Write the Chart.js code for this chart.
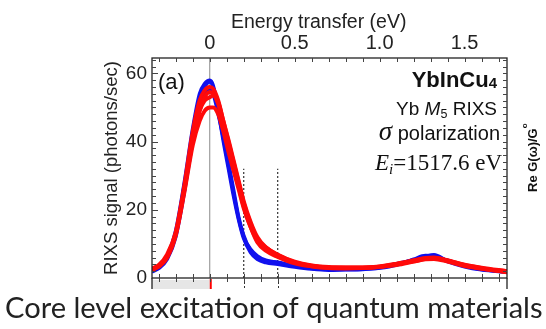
<!DOCTYPE html>
<html>
<head>
<meta charset="utf-8">
<script src="https://cdn.jsdelivr.net/npm/chart.js@4"></script>
<style>
  html, body { margin: 0; padding: 0; background: #fff; }
  canvas { display: block; }
</style>
</head>
<body>
<canvas id="rixs" width="546" height="329"></canvas>
<script>
// energy transfer (eV), shared by all spectra
const energy = [-0.34, -0.3, -0.25, -0.2, -0.15, -0.1, -0.06, -0.03, 0, 0.02, 0.05, 0.08, 0.11, 0.14, 0.17, 0.2,
  0.24, 0.28, 0.33, 0.4, 0.5, 0.6, 0.7, 0.8, 0.9, 1.0, 1.1, 1.2, 1.27, 1.32, 1.4, 1.5, 1.6, 1.75];

// RIXS signal (photons/sec), blue spectra
const blue1 = [2, 3, 6, 13, 27, 42, 52, 56, 57.5, 56, 50, 42, 34, 26, 18, 12.5, 8, 6, 5, 4.5, 3.5, 2.8, 2.5, 2.5, 2.6, 3, 4, 5.3, 6.3, 6.8, 5, 3.5, 2.5, 1.8];
const blue2 = [2.2, 3.2, 6.5, 14, 28, 44, 54, 57, 58, 56.5, 49, 40, 32, 24, 17, 11.5, 7.5, 5.5, 4.5, 4, 3.2, 2.6, 2.3, 2.4, 2.5, 2.9, 3.8, 5.5, 6.6, 6.5, 4.8, 3.3, 2.4, 1.7];
const blue3 = [1.8, 2.8, 5.5, 12, 25, 40, 50, 54, 55.5, 54, 48, 41, 33, 25, 17.5, 12, 8.5, 6.5, 5.2, 4.6, 3.6, 3, 2.6, 2.6, 2.7, 3.1, 4.2, 5.2, 6, 6.2, 5.2, 3.6, 2.6, 1.9];

// red spectra
const red1 = [2.5, 3.5, 6.5, 13, 26, 41, 49, 53, 54.5, 54, 51, 45, 39, 33, 27, 21, 15, 11, 8.5, 6.5, 4.5, 3.5, 3, 3, 3, 3.3, 4, 5, 5.7, 5.8, 5, 3.7, 2.8, 1.8];
const red2 = [2.8, 3.8, 7, 13.5, 27, 43, 52, 55, 56, 55.5, 52, 46, 40, 34, 28, 22, 16, 11.5, 9, 6.8, 4.8, 3.7, 3.2, 3.1, 3.1, 3.4, 4.2, 5.2, 5.9, 6, 5.1, 3.9, 3, 2];
const red3 = [2.4, 3.3, 6, 12.5, 25, 39, 46, 49, 50, 50, 48, 43, 37, 31.5, 26, 20.5, 15, 10.5, 8, 6.2, 4.3, 3.4, 2.9, 2.8, 2.9, 3.2, 3.8, 4.8, 5.5, 5.6, 4.8, 3.5, 2.7, 1.7];
const red4 = [2.6, 3.6, 6.5, 13, 26, 41, 49, 52, 53, 53.5, 51.5, 46, 40.5, 34.5, 28.5, 22.5, 16.5, 12, 9, 6.8, 4.6, 3.6, 3.1, 3, 3, 3.3, 4.1, 4.9, 5.6, 5.9, 5.2, 3.8, 2.9, 1.9];

const blueSpectra = [blue1, blue2, blue3];
const redSpectra = [red1, red2, red3, red4];

const xTicks = [0, 0.5, 1.0, 1.5];
const yTicks = [0, 20, 40, 60];
const dottedAt = [0.2, 0.4];
const dottedTop = 32;

const X_MIN = -0.34, X_MAX = 1.75, Y_MIN = 0, Y_MAX = 64.5;

const SANS = '"Liberation Sans", Arial, sans-serif';
const SERIF = '"Liberation Serif", "Times New Roman", serif';

function spectrum(values, color, width) {
  return {
    data: energy.map((e, i) => ({ x: e, y: values[i] })),
    borderColor: color,
    borderWidth: width,
    pointRadius: 0,
    cubicInterpolationMode: "monotone",
    fill: false,
  };
}

function vline(x, top, color, dash, width) {
  return {
    data: [{ x: x, y: Y_MIN }, { x: x, y: top }],
    borderColor: color,
    borderWidth: width,
    borderDash: dash,
    pointRadius: 0,
  };
}

// Chart.js paints the first dataset on top, so red goes first and the guide lines last
const datasets = [
  ...redSpectra.map((s) => spectrum(s, "#ff0a0a", 4)),
  ...blueSpectra.map((s) => spectrum(s, "#1010ee", 3.5)),
  vline(0, Y_MAX, "#8a8a8a", [], 1),
  ...dottedAt.map((x) => vline(x, dottedTop, "#333", [2, 2], 1.2)),
];

// draws a row of text pieces, right aligned at xRight
function drawRun(ctx, pieces, xRight, baseY) {
  let total = 0;
  pieces.forEach((p) => {
    ctx.font = p.font;
    total += ctx.measureText(p.t).width;
  });
  let x = xRight - total;
  pieces.forEach((p) => {
    ctx.font = p.font;
    ctx.fillText(p.t, x, baseY + (p.dy || 0));
    x += ctx.measureText(p.t).width;
  });
}

const decor = {
  id: "decor",
  afterDatasetsDraw(chart) {
    const { ctx, chartArea: a, scales } = chart;
    const xs = scales.x, ys = scales.y;
    ctx.save();

    // lower strip (next panel peeking out)
    const x0 = xs.getPixelForValue(0);
    ctx.fillStyle = "#e6e6e6";
    ctx.fillRect(a.left, a.bottom + 2, x0 - a.left, 9);
    ctx.strokeStyle = "#ff0000";
    ctx.lineWidth = 2;
    ctx.beginPath();
    ctx.moveTo(x0 + 1, a.bottom + 1);
    ctx.lineTo(x0 + 1, a.bottom + 11);
    ctx.stroke();
    ctx.strokeStyle = "#333";
    ctx.lineWidth = 1;
    ctx.setLineDash([2, 2]);
    dottedAt.forEach((v) => {
      const px = Math.round(xs.getPixelForValue(v)) + 0.5;
      ctx.beginPath();
      ctx.moveTo(px, a.bottom);
      ctx.lineTo(px, a.bottom + 11);
      ctx.stroke();
    });
    ctx.setLineDash([]);

    // frame
    ctx.strokeStyle = "#222";
    ctx.lineWidth = 1.3;
    ctx.strokeRect(a.left, a.top, a.right - a.left, a.bottom - a.top);
    ctx.beginPath();
    ctx.moveTo(a.left, a.bottom);
    ctx.lineTo(a.left, a.bottom + 11);
    ctx.moveTo(a.right, a.bottom);
    ctx.lineTo(a.right, a.bottom + 11);
    ctx.stroke();

    // minor ticks
    ctx.lineWidth = 1;
    ctx.strokeStyle = "#444";
    ctx.beginPath();
    for (let k = -3; k <= 17; k++) {
      const px = Math.round(xs.getPixelForValue(k / 10)) + 0.5;
      ctx.moveTo(px, a.top);
      ctx.lineTo(px, a.top + 4);
      ctx.moveTo(px, a.bottom - 4);
      ctx.lineTo(px, a.bottom + 4);
    }
    for (let v = 2; v < Y_MAX; v += 2) {
      const py = Math.round(ys.getPixelForValue(v)) + 0.5;
      const len = v % 20 === 0 ? 6 : 4;
      ctx.moveTo(a.left, py);
      ctx.lineTo(a.left + len, py);
      ctx.moveTo(a.right, py);
      ctx.lineTo(a.right - 4, py);
    }
    ctx.stroke();
    ctx.restore();
  },
  afterDraw(chart) {
    const { ctx, chartArea: a } = chart;
    ctx.save();
    ctx.fillStyle = "#111";
    ctx.textBaseline = "alphabetic";

    ctx.font = "22px " + SANS;
    ctx.fillText("(a)", a.left + 6, 89);

    drawRun(ctx, [
      { t: "YbInCu", font: "bold 22px " + SANS },
      { t: "4", font: "bold 15px " + SANS, dy: 1 },
    ], a.right - 10, 87);

    drawRun(ctx, [
      { t: "Yb ", font: "19px " + SANS },
      { t: "M", font: "italic 19px " + SANS },
      { t: "5", font: "12.5px " + SANS, dy: 3 },
      { t: " RIXS", font: "19px " + SANS },
    ], a.right - 10, 115);

    drawRun(ctx, [
      { t: "σ", font: "italic 27px " + SERIF },
      { t: " polarization", font: "20px " + SANS },
    ], a.right - 7, 140);

    drawRun(ctx, [
      { t: "E", font: "italic 23px " + SERIF },
      { t: "i", font: "italic 15px " + SERIF, dy: 4 },
      { t: "=1517.6 eV", font: "23px " + SERIF },
    ], a.right - 5, 170);

    // side label of the neighbouring panel
    ctx.save();
    ctx.translate(537, 192);
    ctx.rotate(-Math.PI / 2);
    ctx.font = "bold 13px " + SANS;
    ctx.fillText("Re G(ω)/G", 0, 0);
    const w = ctx.measureText("Re G(ω)/G").width;
    ctx.font = "bold 8px " + SANS;
    ctx.fillText("o", w, -10);
    ctx.restore();

    // caption
    const caption = "Core level excitation of quantum materials";
    let size = 30;
    ctx.font = size + "px Lato, " + SANS;
    size = size * 538 / ctx.measureText(caption).width;
    ctx.font = size.toFixed(1) + "px Lato, " + SANS;
    ctx.fillStyle = "#222";
    ctx.fillText(caption, 5, 318);
    ctx.restore();
  },
};

new Chart(document.getElementById("rixs"), {
  type: "line",
  data: { datasets },
  options: {
    responsive: false,
    animation: false,
    layout: { padding: { left: 101, top: 11, right: 39, bottom: 51 } },
    plugins: { legend: { display: false }, tooltip: { enabled: false } },
    scales: {
      x: {
        type: "linear",
        position: "top",
        min: X_MIN,
        max: X_MAX,
        afterBuildTicks: (s) => { s.ticks = xTicks.map((v) => ({ value: v })); },
        afterFit: (s) => { s.height = 47; },
        grid: { display: false, drawTicks: false },
        border: { display: false },
        ticks: {
          color: "#222",
          font: { family: SANS, size: 20 },
          padding: 3,
          maxRotation: 0,
          callback: (v) => (v === 0 ? "0" : v.toFixed(1)),
        },
        title: {
          display: true,
          text: "Energy transfer (eV)    ",
          color: "#222",
          font: { family: SANS, size: 19.5 },
          padding: 0,
        },
      },
      y: {
        min: Y_MIN,
        max: Y_MAX,
        afterBuildTicks: (s) => { s.ticks = yTicks.map((v) => ({ value: v })); },
        afterFit: (s) => { s.width = 51; },
        grid: { display: false, drawTicks: false },
        border: { display: false },
        ticks: {
          color: "#222",
          font: { family: SANS, size: 19 },
          padding: 5,
        },
        title: {
          display: true,
          text: "RIXS signal (photons/sec)",
          color: "#222",
          font: { family: SANS, size: 18.5 },
          padding: 0,
        },
      },
    },
  },
  plugins: [decor],
});
</script>
</body>
</html>
